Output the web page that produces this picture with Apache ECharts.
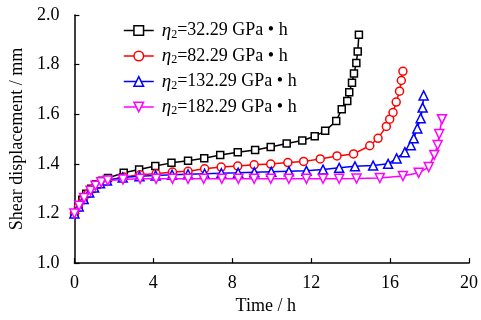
<!DOCTYPE html>
<html><head><meta charset="utf-8">
<script src="https://cdn.jsdelivr.net/npm/echarts@6/dist/echarts.min.js"></script>
<style>html,body{margin:0;padding:0;background:#fff}#c{width:481px;height:320px}</style>
</head><body><div id="c"></div>
<script>
const xTicks = [0, 4, 8, 12, 16, 20];
const yTicks = [1.0, 1.2, 1.4, 1.6, 1.8, 2.0];
const names = ['η2=32.29 GPa • h', 'η2=82.29 GPa • h', 'η2=132.29 GPa • h', 'η2=182.29 GPa • h'];

const t1 = [0,0.2,0.4,0.6,0.85,1.1,1.4,1.7,2.5,3.28,4.1,4.92,5.76,6.58,7.39,8.28,9.16,9.95,10.76,11.55,12.18,12.71,13.27,13.55,13.83,13.93,14.07,14.17,14.29,14.36,14.42];
const v1 = [1.20,1.23,1.255,1.28,1.30,1.318,1.332,1.343,1.364,1.377,1.391,1.404,1.413,1.423,1.436,1.447,1.456,1.468,1.482,1.494,1.511,1.533,1.573,1.62,1.653,1.689,1.727,1.764,1.807,1.853,1.92];

const t2 = [0,0.2,0.45,0.7,0.95,1.25,1.6,2.5,3.33,4.14,4.97,5.76,6.6,7.44,8.28,9.11,9.95,10.82,11.62,12.46,13.31,14.15,14.97,15.39,15.81,15.98,16.15,16.31,16.48,16.57,16.65];
const v2 = [1.2,1.225,1.255,1.28,1.30,1.318,1.332,1.347,1.356,1.36,1.367,1.37,1.38,1.387,1.391,1.396,1.399,1.405,1.41,1.42,1.432,1.44,1.473,1.503,1.551,1.58,1.607,1.649,1.693,1.736,1.773];

const t3 = [0,0.22,0.47,0.75,1.0,1.3,1.65,2.45,3.3,4.12,4.95,5.76,6.6,7.45,8.3,9.12,9.98,10.87,11.76,12.6,13.42,14.22,15.14,15.9,16.33,16.75,17.05,17.2,17.38,17.55,17.65,17.7];
const v3 = [1.2,1.228,1.258,1.285,1.305,1.322,1.333,1.345,1.35,1.353,1.356,1.358,1.36,1.362,1.364,1.366,1.368,1.37,1.372,1.377,1.384,1.39,1.393,1.40,1.422,1.447,1.475,1.503,1.543,1.584,1.627,1.676];

const t4 = [0,0.24,0.49,0.82,1.07,1.36,1.69,2.46,3.33,4.14,4.97,5.76,6.55,7.47,8.31,9.11,9.95,10.87,11.76,12.6,13.42,14.3,15.48,16.65,17.45,17.96,18.24,18.41,18.49,18.63];
const v4 = [1.2,1.231,1.262,1.292,1.312,1.326,1.333,1.337,1.34,1.34,1.34,1.34,1.34,1.34,1.34,1.34,1.34,1.34,1.34,1.34,1.34,1.341,1.343,1.351,1.364,1.387,1.436,1.476,1.52,1.58];

const colors = ['#000000', '#FF0000', '#0000FF', '#FF00FF'];
const symbols = ['rect', 'circle', 'triangle', 'triangle'];
const symSizes = [7, 8, 9, 9];
const rotates = [0, 0, 0, 180];
const T = [t1, t2, t3, t4], V = [v1, v2, v3, v4];

const font = '"Liberation Serif", "Times New Roman", serif';
const chart = echarts.init(document.getElementById('c'), null, {renderer: 'canvas'});
const series = names.map((n, i) => ({
  name: n, type: 'line',
  data: T[i].map((t, k) => [t, V[i][k]]),
  symbol: symbols[i], symbolSize: symSizes[i], symbolRotate: rotates[i],
  lineStyle: {color: colors[i], width: 1.5},
  itemStyle: {color: '#fff', borderColor: colors[i], borderWidth: 1.5},
  z: 2 + i, animation: false
}));
chart.setOption({
  animation: false,
  grid: {left: 72, right: 11, top: 15, bottom: 55},
  legend: {
    left: 118, top: 16, orient: 'vertical', itemGap: 6, itemWidth: 30, itemHeight: 12,
    data: names.map((n, i) => ({name: n, itemStyle: {color: '#fff', borderColor: colors[i], borderWidth: 1.5}, lineStyle: {color: colors[i], width: 1.5}})),
    formatter: function (n) { const p = n.split('=');
      return '{i|η}{s|2}{n|=' + p[1] + '}'; },
    textStyle: {fontFamily: font, fontSize: 18, color: '#000',
      rich: {
        i: {fontFamily: font, fontStyle: 'italic', fontSize: 19, color: '#000', padding: [0, 0, 0, 3]},
        s: {fontFamily: font, fontSize: 12, color: '#000', verticalAlign: 'bottom', padding: [8, 0, 0, 0]},
        n: {fontFamily: font, fontSize: 18, color: '#000'}
      }}
  },
  xAxis: {
    type: 'value', min: xTicks[0], max: xTicks[xTicks.length - 1], interval: 4,
    name: 'Time / h', nameLocation: 'middle', nameGap: 33,
    nameTextStyle: {fontFamily: font, fontSize: 18, color: '#000', padding: [0, 12, 0, 0]},
    axisLine: {lineStyle: {color: '#000', width: 1.5}},
    axisTick: {inside: true, length: 5, lineStyle: {color: '#000', width: 1.2}},
    axisLabel: {fontFamily: font, fontSize: 18, color: '#000', margin: 11},
    splitLine: {show: false}
  },
  yAxis: {
    type: 'value', min: yTicks[0], max: yTicks[yTicks.length - 1], interval: 0.2,
    name: 'Shear displacement / mm', nameLocation: 'middle', nameGap: 42,
    nameTextStyle: {fontFamily: font, fontSize: 18, color: '#000'},
    axisLine: {show: true, lineStyle: {color: '#000', width: 1.5}},
    axisTick: {show: true, inside: true, length: 5, lineStyle: {color: '#000', width: 1.2}},
    axisLabel: {fontFamily: font, fontSize: 18, color: '#000', margin: 15, formatter: v => v.toFixed(1)},
    splitLine: {show: false}
  },
  series: series
});
</script></body></html>
